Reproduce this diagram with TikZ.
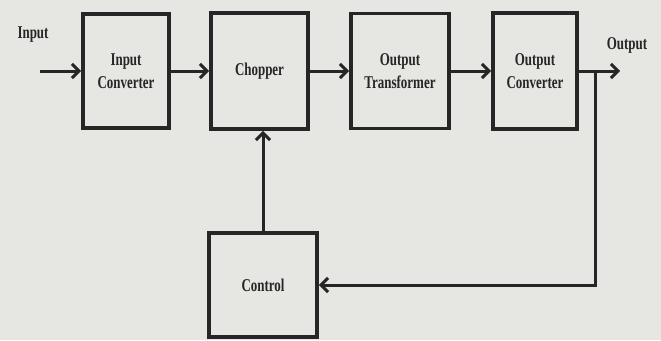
\documentclass[tikz,border=0pt]{standalone}
\usepackage{fontspec}
\setmainfont{Liberation Serif}[FakeStretch=0.72]
\usetikzlibrary{arrows.meta}
\definecolor{paper}{HTML}{E6E6E3}
\definecolor{ink}{HTML}{262626}
\tikzset{
    block/.style={draw=ink, line width=3.8pt, fill=paper, align=center,
        font=\fontsize{18}{23}\selectfont\bfseries, text=ink},
    flow/.style={draw=ink, line width=3pt, -{Straight Barb[length=7pt,width=14pt,line width=3pt]}},
    wire/.style={draw=ink, line width=3pt},
    label/.style={font=\fontsize{18}{23}\selectfont\bfseries, text=ink}
}
\begin{document}
\begin{tikzpicture}[x=1pt,y=-1pt]
    % Draw the paper
    \fill[paper] (0,0) rectangle (661,340);
    \useasboundingbox (0,0) rectangle (661,340);

    % Draw the blocks of the top row
    \node[block, minimum width=86pt, minimum height=114pt] (inconv) at (126,71) {Input\\Converter};
    \node[block, minimum width=97pt, minimum height=116pt] (chopper) at (259.5,71) {Chopper};
    \node[block, minimum width=98pt, minimum height=115pt] (outtrans) at (400,71) {Output\\Transformer};
    \node[block, minimum width=84pt, minimum height=116pt] (outconv) at (535,71) {Output\\Converter};

    % Draw the control block
    \node[block, minimum width=108pt, minimum height=104pt] (control) at (263,285) {Control};

    % Draw the labels
    \node[label] (inlabel) at (33,35) {Input};
    \node[label] (outlabel) at (627,45) {Output};

    % Draw the free ends
    \coordinate (in) at (40,71);
    \coordinate (out) at (620,71);
    \coordinate (tap) at (595,71);

    % arrows along the top row
    \draw[flow] (in) -- (inconv.west);
    \draw[flow] (inconv.east) -- (chopper.west);
    \draw[flow] (chopper.east) -- (outtrans.west);
    \draw[flow] (outtrans.east) -- (outconv.west);
    \draw[flow] (outconv.east) -- (out);

    % feedback loop
    \draw[flow] (tap) |- (control.east);
    \draw[flow] (control.north) -- (control.north |- chopper.south);
\end{tikzpicture}
\end{document}
